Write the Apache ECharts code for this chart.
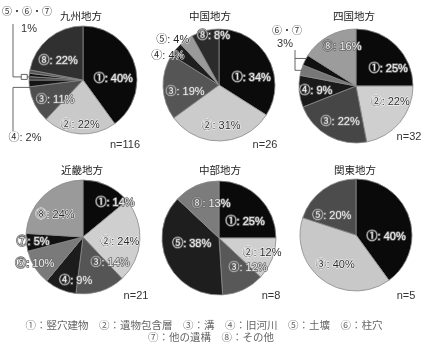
<!DOCTYPE html>
<html><head><meta charset="utf-8">
<script src="https://cdn.jsdelivr.net/npm/echarts@6/dist/echarts.min.js"></script>
<style>html,body{margin:0;padding:0;background:#fff}#c{width:421px;height:346px}</style>
</head><body><div id="c"></div><script>
// ---- data ----
const regionNames = ['九州地方','中国地方','四国地方','近畿地方','中部地方','関東地方'];
const sampleSizes = [116, 26, 32, 21, 8, 5];
const kyushuCats  = ['①','②','③','④','⑤','⑥','⑦','⑧'];
const kyushuVals  = [40, 22, 11, 2, 1, 1, 1, 22];
const chugokuCats = ['①','②','③','④','⑤','⑧'];
const chugokuVals = [34, 31, 19, 4, 4, 8];
const shikokuCats = ['①','②','③','④','⑥','⑦','⑧'];
const shikokuVals = [25, 22, 22, 9, 3, 3, 16];
const kinkiCats   = ['①','②','③','④','⑤','⑦','⑧'];
const kinkiVals   = [14, 24, 14, 9, 10, 5, 24];
const chubuCats   = ['①','②','③','⑤','⑧'];
const chubuVals   = [25, 12, 12, 38, 13];
const kantoCats   = ['①','③','⑤'];
const kantoVals   = [40, 40, 20];
const legendLine1 = '①：竪穴建物　②：遺物包含層　③：溝　④：旧河川　⑤：土壙　⑥：柱穴';
const legendLine2 = '⑦：他の遺構　⑧：その他';

const allCats = [kyushuCats, chugokuCats, shikokuCats, kinkiCats, chubuCats, kantoCats];
const allVals = [kyushuVals, chugokuVals, shikokuVals, kinkiVals, chubuVals, kantoVals];

// ---- layout / styles ----
const geom = [
  {cx:83,  cy:80,  r:54, tx:81,  ty:16,  nx:125, ny:145},
  {cx:219, cy:85,  r:56, tx:210, ty:16,  nx:265, ny:145},
  {cx:356, cy:86,  r:57, tx:354, ty:16,  nx:409, ny:137},
  {cx:83,  cy:237, r:57, tx:82,  ty:170, nx:136, ny:296},
  {cx:219, cy:238, r:57, tx:220, ty:170, nx:271, ny:296},
  {cx:356, cy:235, r:56, tx:355, ty:170, nx:406, ny:296}
];
const sliceColors = [
  ['#0a0a0a','#c9c9c9','#4f4f4f','#141414','#3a3a3a','#111','#555','#303030'],
  ['#0b0b0b','#cbcbcb','#555555','#1e1e1e','#9a9a9a','#2b2b2b'],
  ['#0a0a0a','#cfcfcf','#464646','#1a1a1a','#777777','#111111','#9c9c9c'],
  ['#0a0a0a','#cfcfcf','#555555','#1c1c1c','#7a7a7a','#111111','#9a9a9a'],
  ['#0a0a0a','#cfcfcf','#585858','#1e1e1e','#7c7c7c'],
  ['#0a0a0a','#c8c8c8','#4c4c4c']
];
// [radius fraction, angle offset deg, tone] ; null = hidden
const labelPlace = [
  [[0.56,16,'l'],[0.83,0,'d'],[0.63,-8,'l'],null,null,null,null,[0.58,-13,'l']],
  [[0.59,16,'l'],[0.73,-1,'d'],[0.62,-10,'l'],[1.05,-10,'d'],[1.15,-10,'d'],[0.88,8,'l']],
  [[0.64,17,'l'],[0.66,-15,'d'],[0.69,-5,'l'],[0.71,-2,'l'],null,null,[0.73,9,'l']],
  [[0.82,18,'l'],[0.65,4,'d'],[0.66,-28,'l'],[0.78,-14,'l'],[0.97,3,'l'],[0.88,0,'l'],[0.62,-9,'d']],
  [[0.54,13,'l'],[0.8,-2,'d'],[0.73,-19,'l'],[0.49,13,'l'],[0.61,10,'l']],
  [[0.54,22,'l'],[0.65,-1,'d'],[0.55,-16,'l']]
];
const FONT = '"Liberation Sans","Noto Sans CJK JP",sans-serif';
const CJK = '"Noto Sans CJK JP",sans-serif';

function midAngle(vals, i, off) {
  const tot = vals.reduce((a,b)=>a+b,0);
  let c = 0; for (let k=0;k<i;k++) c += vals[k];
  return (c + vals[i]/2) / tot * 360 + (off||0);
}
function rangeAngle(vals, i) {
  const tot = vals.reduce((a,b)=>a+b,0);
  let c = 0; for (let k=0;k<i;k++) c += vals[k];
  return [c/tot*360, (c+vals[i])/tot*360];
}
function polar(g, deg, rr) {
  const a = deg*Math.PI/180;
  return [g.cx + rr*Math.sin(a), g.cy - rr*Math.cos(a)];
}

const series = allVals.map((vals, s) => {
  const g = geom[s];
  return {
    type: 'pie',
    center: [g.cx, g.cy],
    radius: g.r,
    startAngle: 90,
    clockwise: true,
    silent: true,
    avoidLabelOverlap: false,
    itemStyle: {borderColor: '#8a8a8a', borderWidth: 0.8},
    label: {show: true, position: 'inside', fontSize: 11, fontFamily: FONT,
            formatter: p => p.name + ': ' + p.value + '%'},
    labelLine: {show: false},
    emphasis: {disabled: true},
    labelLayout: params => {
      const lp = labelPlace[s][params.dataIndex];
      if (!lp) return {};
      const [x, y] = polar(g, midAngle(vals, params.dataIndex, lp[1]), lp[0]*g.r);
      return {x: x, y: y, align: 'center', verticalAlign: 'middle'};
    },
    data: vals.map((v, i) => {
      const lp = labelPlace[s][i];
      const lab = !lp ? {show: false} :
        (lp[2] === 'l'
          ? {color: '#eeeeee', textBorderColor: '#6a6a6a', textBorderWidth: 1.6}
          : {color: '#2a2a2a', textBorderColor: '#ffffff', textBorderWidth: 1});
      return {name: allCats[s][i], value: v, itemStyle: {color: sliceColors[s][i]}, label: lab};
    })
  };
});

const graphics = [];
geom.forEach((g, s) => {
  graphics.push({type:'text', x:g.tx, y:g.ty, style:{text: regionNames[s], fontSize: 10.5, fontFamily: CJK,
    fill:'#222', align:'center', verticalAlign:'middle'}});
  graphics.push({type:'text', x:g.nx, y:g.ny, style:{text: 'n=' + sampleSizes[s], fontSize: 11, fontFamily: FONT,
    fill:'#333', align:'center', verticalAlign:'middle'}});
});
const lineStyle = {stroke:'#555', lineWidth: 0.9, fill: null};
// Kyushu callouts (④ and ⑤・⑥・⑦)
{
  const g = geom[0];
  const r4 = rangeAngle(kyushuVals, 3);
  const e4 = polar(g, (r4[0]+r4[1])/2, g.r);
  const r5 = rangeAngle(kyushuVals, 4), r7 = rangeAngle(kyushuVals, 6);
  const e5 = polar(g, (r5[0]+r7[1])/2, g.r);
  graphics.push({type:'polyline', z:10, shape:{points:[[13,24],[13,e5[1]+2],[e5[0]+1,e5[1]+2]]}, style: lineStyle});
  graphics.push({type:'rect', z:10, shape:{x:e5[0]-8, y:e5[1]-0.5, width:6, height:5}, style:{stroke:'#555', lineWidth:0.9, fill:'#fff'}});
  graphics.push({type:'polyline', z:10, shape:{points:[[13,131],[13,e4[1]+4],[e4[0]+1,e4[1]+4]]}, style: lineStyle});
  graphics.push({type:'text', x:27, y:12, style:{text:'⑤・⑥・⑦', fontSize:10, fontFamily:FONT, fill:'#333', align:'center', verticalAlign:'middle'}});
  graphics.push({type:'text', x:29, y:29, style:{text:'1%', fontSize:11, fontFamily:FONT, fill:'#333', align:'center', verticalAlign:'middle'}});
  graphics.push({type:'text', x:25, y:138, style:{text:'④: 2%', fontSize:11, fontFamily:FONT, fill:'#333', align:'center', verticalAlign:'middle'}});
}
// Shikoku callout (⑥・⑦)
{
  const g = geom[2];
  const r6 = rangeAngle(shikokuVals, 4), r7 = rangeAngle(shikokuVals, 5);
  const eA = polar(g, r6[0], g.r), eB = polar(g, r7[1], g.r);
  graphics.push({type:'polyline', z:10, shape:{points:[[295,50],[295,eA[1]-5],[eA[0]+2,eA[1]-5]]}, style: lineStyle});
  graphics.push({type:'polyline', z:10, shape:{points:[[295,eB[1]+3],[eB[0]-1,eB[1]+3]]}, style: lineStyle});
  graphics.push({type:'text', x:287, y:31, style:{text:'⑥・⑦', fontSize:10, fontFamily:FONT, fill:'#333', align:'center', verticalAlign:'middle'}});
  graphics.push({type:'text', x:285, y:44, style:{text:'3%', fontSize:11, fontFamily:FONT, fill:'#333', align:'center', verticalAlign:'middle'}});
}
graphics.push({type:'text', x:204, y:325, style:{text: legendLine1, fontSize:10.5, fontFamily:CJK, fill:'#666', align:'center', verticalAlign:'middle'}});
graphics.push({type:'text', x:211, y:337, style:{text: legendLine2, fontSize:10.5, fontFamily:CJK, fill:'#666', align:'center', verticalAlign:'middle'}});

const chart = echarts.init(document.getElementById('c'), null, {renderer:'canvas'});
chart.setOption({
  backgroundColor: '#fff',
  animation: false,
  series: series,
  graphic: {elements: graphics}
});
</script></body></html>
